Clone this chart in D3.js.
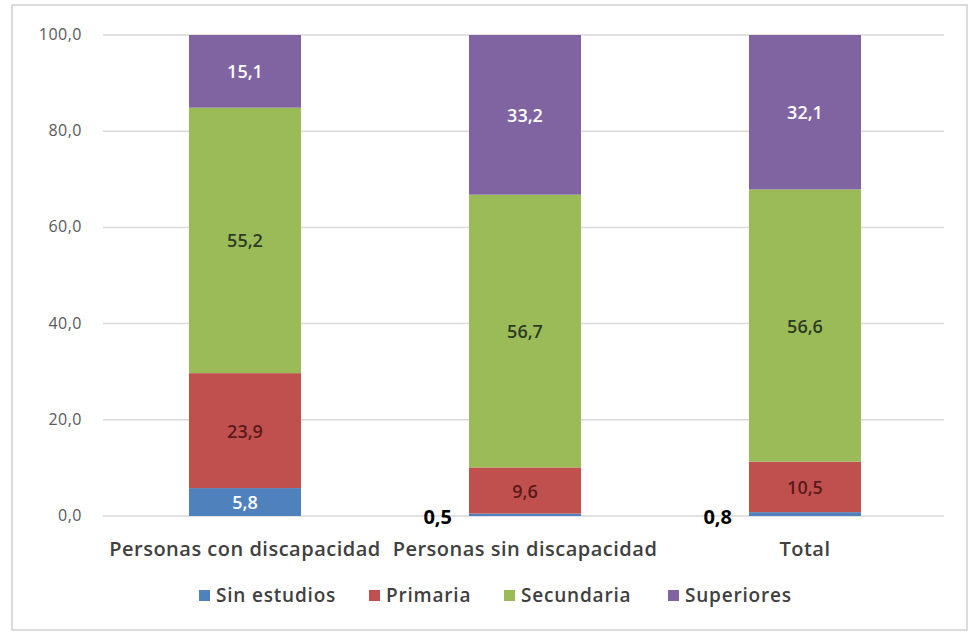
<!DOCTYPE html>
<html>
<head>
<meta charset="utf-8">
<script src="https://cdn.jsdelivr.net/npm/d3@7"></script>
<style>
  body { margin: 0; background: #fff; }
  text { font-family: "Open Sans", Lato, sans-serif; }
</style>
</head>
<body>
<script>
const categories = ["Personas con discapacidad", "Personas sin discapacidad", "Total"];
const seriesNames = ["Sin estudios", "Primaria", "Secundaria", "Superiores"];
const sinEstudios = [5.8, 0.5, 0.8];
const primaria = [23.9, 9.6, 10.5];
const secundaria = [55.2, 56.7, 56.6];
const superiores = [15.1, 33.2, 32.1];
const yTicks = [0, 20, 40, 60, 80, 100];

const colors = ["#4F81BD", "#C0504D", "#9BBB59", "#8064A2"];
const labelColors = ["#ffffff", "#5a1a1a", "#2e3b22", "#ffffff"];

function main() {
  const width = 971, height = 633;
  const svg = d3.select("body").append("svg")
    .attr("width", width).attr("height", height);

  // outer frame
  svg.append("rect")
    .attr("x", 12).attr("y", 5)
    .attr("width", 955).attr("height", 625)
    .attr("fill", "#fff").attr("stroke", "#d0d0d0").attr("stroke-width", 1.5);

  const x = d3.scaleBand().domain(categories).range([105, 945]).paddingInner(0.6).paddingOuter(0.3);
  const y = d3.scaleLinear().domain([0, 100]).range([516, 35]);

  const fmt = v => d3.format(".1f")(v).replace(".", ",");

  // grid
  svg.append("g").selectAll("line").data(yTicks).enter().append("line")
    .attr("x1", 103).attr("x2", 944)
    .attr("y1", d => y(d)).attr("y2", d => y(d))
    .attr("stroke", "#d9d9d9").attr("stroke-width", 1.5);

  // y tick labels
  svg.append("g").selectAll("text").data(yTicks).enter().append("text")
    .attr("x", 82).attr("y", d => y(d) + 5)
    .attr("text-anchor", "end")
    .attr("font-size", 16).attr("fill", "#595959")
    .attr("letter-spacing", 0.5)
    .text(d => fmt(d));

  const rows = categories.map((c, i) => ({
    cat: c,
    "Sin estudios": sinEstudios[i],
    "Primaria": primaria[i],
    "Secundaria": secundaria[i],
    "Superiores": superiores[i]
  }));
  const stacked = d3.stack().keys(seriesNames)(rows);

  const layers = svg.append("g").selectAll("g").data(stacked).enter().append("g")
    .attr("fill", (d, i) => colors[i]);

  layers.selectAll("rect").data(d => d).enter().append("rect")
    .attr("x", d => x(d.data.cat))
    .attr("width", x.bandwidth())
    .attr("y", d => y(d[1]))
    .attr("height", d => y(d[0]) - y(d[1]));

  // value labels
  stacked.forEach((layer, si) => {
    layer.forEach(d => {
      const v = d[1] - d[0];
      const small = v < 2;
      svg.append("text")
        .attr("x", small ? x(d.data.cat) - 17 : x(d.data.cat) + x.bandwidth() / 2)
        .attr("y", small ? y(d[0]) + 8 : (y(d[0]) + y(d[1])) / 2 + 7)
        .attr("text-anchor", small ? "end" : "middle")
        .attr("font-size", small ? 20 : 18)
        .attr("font-weight", small ? "bold" : 600)
        .attr("fill", small ? "#000" : labelColors[si])
        .text(fmt(v));
    });
  });

  // category labels
  svg.append("g").selectAll("text").data(categories).enter().append("text")
    .attr("x", d => x(d) + x.bandwidth() / 2)
    .attr("y", 556)
    .attr("text-anchor", "middle")
    .attr("font-size", 20).attr("font-weight", 600).attr("fill", "#404040")
    .attr("letter-spacing", 0.5)
    .text(d => d);

  // legend
  const legendX = [199, 369, 504, 668];
  const lg = svg.append("g").selectAll("g").data(seriesNames).enter().append("g")
    .attr("transform", (d, i) => `translate(${legendX[i]},601)`);
  lg.append("rect").attr("x", 0).attr("y", -11).attr("width", 11).attr("height", 11)
    .attr("fill", (d, i) => colors[i]);
  lg.append("text").attr("x", 17).attr("y", 1)
    .attr("font-size", 19).attr("font-weight", 600).attr("fill", "#404040")
    .attr("letter-spacing", 0.8)
    .text(d => d);
}

main();
</script>
</body>
</html>
